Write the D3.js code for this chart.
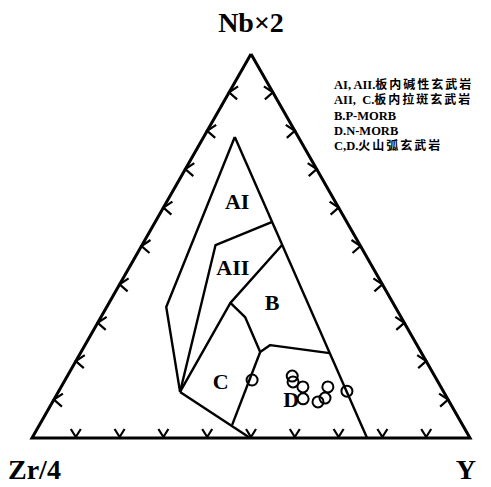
<!DOCTYPE html>
<html>
<head>
<meta charset="utf-8">
<script src="https://cdn.jsdelivr.net/npm/d3@7"></script>
<style>
  body { margin: 0; background: #fff; }
  svg { display: block; }
</style>
</head>
<body>
<div id="chart"></div>
<script>
// ternary values are [Nb×2, Zr/4, Y] in percent
var corners = ["Nb×2", "Zr/4", "Y"];
var tickValues = [10, 20, 30, 40, 50, 60, 70, 80, 90];

var outerLeft = [[78.4, 14.5, 7.1], [34.1, 52.3, 13.6], [12.0, 60.2, 27.8]];
var rightLine = [[78.4, 14.5, 7.1], [0, 23.5, 76.5]];
var aiAii = [[56.3, 17.0, 26.7], [50.3, 33.0, 16.8], [12.0, 60.2, 27.8]];
var aiiB = [[50.3, 17.8, 32.0], [35.2, 37.1, 27.7], [12.0, 60.2, 27.8]];
var bC = [[35.2, 37.1, 27.7], [31.5, 35.6, 32.9], [22.4, 36.7, 40.9]];
var bD = [[22.4, 36.7, 40.9], [24.2, 33.5, 42.3], [22.1, 21.0, 56.9]];
var cD = [[22.4, 36.7, 40.9], [3.4, 52.6, 44.0]];
var cBase = [[12.0, 60.2, 27.8], [0, 50.2, 49.8]];

var samples = [
  [15.1, 42.2, 42.7],
  [16.1, 32.5, 51.3],
  [14.6, 33.1, 52.3],
  [13.3, 31.5, 55.2],
  [10.2, 33.0, 56.8],
  [13.3, 25.8, 60.9],
  [10.4, 27.9, 61.7],
  [9.4, 30.0, 60.6],
  [12.2, 22.0, 65.8]
];

var fieldNames = ["AI", "AII", "B", "C", "D"];
var fieldSpots = [[61.7, 22.3, 16], [44.3, 32, 23.7], [35.2, 27.6, 37.2], [14.8, 49.5, 35.7], [9.9, 35.9, 54.2]];

var legendLatin = ["AI, AII.", "AII,  C.", "B.P-MORB", "D.N-MORB", "C,D."];
var legendCjk = ["板内碱性玄武岩", "板内拉斑玄武岩", "", "", "火山弧玄武岩"];

var width = 491, height = 487;

var svg = d3.select("#chart").append("svg")
    .attr("width", width)
    .attr("height", height);

var x = d3.scaleLinear().domain([0, 1]).range([32, 470]);
var y = d3.scaleLinear().domain([0, 1]).range([438, 54]);

function project(d) {
  var s = d[0] + d[1] + d[2];
  var a = d[0] / s, c = d[2] / s;
  return [x(c + a / 2), y(a)];
}

var line = d3.line()
    .x(function(d) { return project(d)[0]; })
    .y(function(d) { return project(d)[1]; });

// outer triangle
svg.append("path")
    .datum([[100, 0, 0], [0, 100, 0], [0, 0, 100], [100, 0, 0]])
    .attr("d", line)
    .attr("fill", "none")
    .attr("stroke", "#000")
    .attr("stroke-width", 3)
    .attr("stroke-linejoin", "miter");

// chevron ticks on each side
var tickSides = [
  { pos: function(t) { return [0, 100 - t, t]; }, arms: [[-5, -8], [5, -8]], off: [0, -1] },
  { pos: function(t) { return [t, 100 - t, 0]; }, arms: [[9, -6], [8, 7]], off: [0, 0] },
  { pos: function(t) { return [t, 0, 100 - t]; }, arms: [[-9, -6], [-8, 7]], off: [0, 0] }
];

tickSides.forEach(function(side) {
  svg.append("g").selectAll("path")
      .data(tickValues)
      .enter().append("path")
      .attr("d", function(t) {
        var p = project(side.pos(t));
        var vx = p[0] + side.off[0], vy = p[1] + side.off[1];
        return "M" + (vx + side.arms[0][0]) + "," + (vy + side.arms[0][1]) +
               "L" + vx + "," + vy +
               "L" + (vx + side.arms[1][0]) + "," + (vy + side.arms[1][1]);
      })
      .attr("fill", "none")
      .attr("stroke", "#000")
      .attr("stroke-width", 2.2);
});

// field boundaries
svg.append("g").selectAll("path")
    .data([outerLeft, rightLine, aiAii, aiiB, bC, bD, cD, cBase])
    .enter().append("path")
    .attr("d", line)
    .attr("fill", "none")
    .attr("stroke", "#000")
    .attr("stroke-width", 2.4)
    .attr("stroke-linejoin", "round");

// field labels
svg.append("g").selectAll("text")
    .data(fieldNames)
    .enter().append("text")
    .attr("x", function(d, i) { return project(fieldSpots[i])[0]; })
    .attr("y", function(d, i) { return project(fieldSpots[i])[1]; })
    .attr("text-anchor", "middle")
    .attr("dominant-baseline", "central")
    .attr("font-family", "Liberation Serif, serif")
    .attr("font-weight", "bold")
    .attr("font-size", 22)
    .text(function(d) { return d; });

// samples
svg.append("g").selectAll("circle")
    .data(samples)
    .enter().append("circle")
    .attr("cx", function(d) { return project(d)[0]; })
    .attr("cy", function(d) { return project(d)[1]; })
    .attr("r", 5.5)
    .attr("fill", "none")
    .attr("stroke", "#000")
    .attr("stroke-width", 2);

// corner titles
var titleSpots = [[251, 32, "middle"], [8, 479, "start"], [476, 479, "end"]];
svg.append("g").selectAll("text")
    .data(corners)
    .enter().append("text")
    .attr("x", function(d, i) { return titleSpots[i][0]; })
    .attr("y", function(d, i) { return titleSpots[i][1]; })
    .attr("text-anchor", function(d, i) { return titleSpots[i][2]; })
    .attr("font-family", "Liberation Serif, serif")
    .attr("font-weight", "bold")
    .attr("font-size", 28)
    .text(function(d) { return d; });

// legend
var legend = svg.append("g").attr("transform", "translate(334,89)");
legendLatin.forEach(function(t, i) {
  var txt = legend.append("text")
      .attr("x", 0)
      .attr("y", i * 15.3)
      .attr("font-size", 12.5)
      .attr("font-weight", "bold");
  txt.append("tspan")
      .attr("font-family", "Liberation Serif, serif")
      .attr("xml:space", "preserve")
      .text(t);
  if (legendCjk[i]) {
    txt.append("tspan")
        .attr("font-family", "Noto Sans CJK SC")
        .attr("font-size", 12)
        .attr("letter-spacing", 2)
        .text(legendCjk[i]);
  }
});
</script>
</body>
</html>
